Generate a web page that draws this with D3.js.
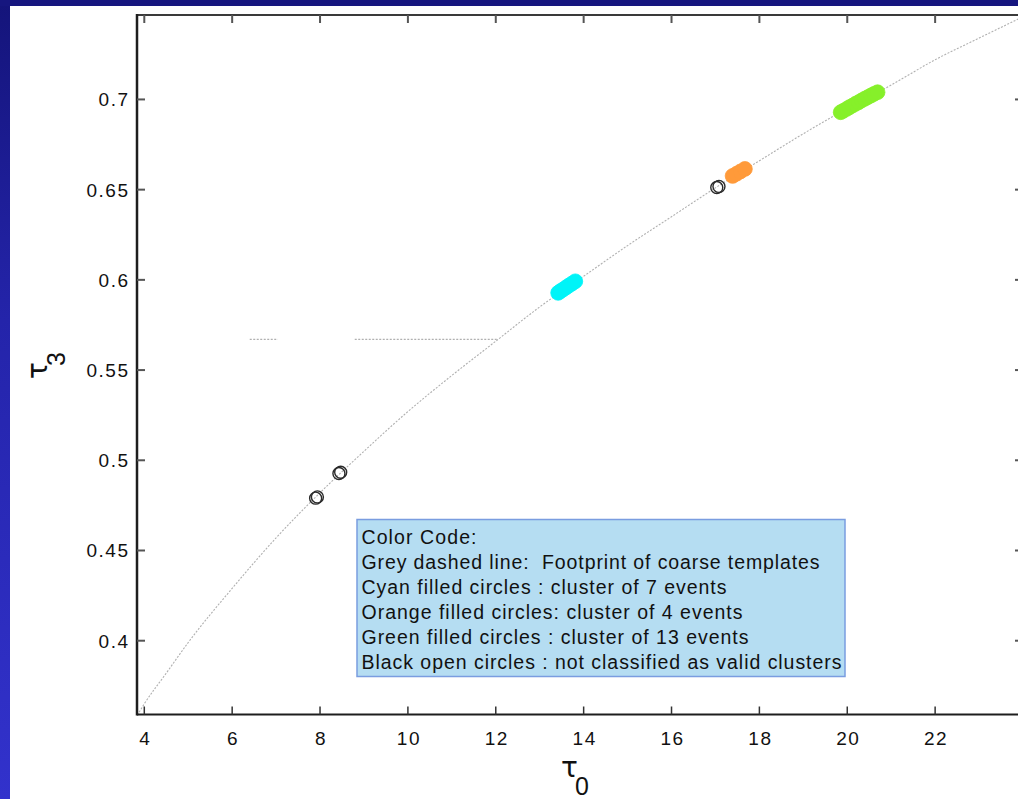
<!DOCTYPE html>
<html>
<head>
<meta charset="utf-8">
<script src="https://cdn.jsdelivr.net/npm/d3@7"></script>
<style>
  html, body { margin: 0; padding: 0; background: #16167f; }
  svg { display: block; }
  text { font-family: "Liberation Sans", Arial, Helvetica, sans-serif; fill: #111; white-space: pre; }
  .greek { font-family: "DejaVu Sans", sans-serif; }
</style>
</head>
<body>
<svg id="chart" width="1018" height="799"></svg>
<script>
// Footprint of the coarse template bank in the (tau0, tau3) plane
const footprintTau0 = [3.80, 4.0, 4.5, 5.0, 6.0, 7.0, 8.0, 9.0, 10.0, 11.0, 12.0, 13.0, 14.0, 15.0, 16.0, 17.0, 18.0, 19.0, 20.0, 21.0, 22.0, 23.0, 24.1];
const footprintTau3 = [0.357, 0.365, 0.382, 0.399, 0.429, 0.457, 0.482, 0.505, 0.527, 0.547, 0.566, 0.585, 0.602, 0.619, 0.635, 0.651, 0.666, 0.681, 0.695, 0.708, 0.722, 0.734, 0.747];

// Horizontal grey dashed segments at tau3 = 0.567
const flatTau3 = 0.567;
const flatSegments = [[6.40, 7.04], [8.79, 12.04]];

// Cluster of 7 events (cyan)
const cyanTau0 = [13.42, 13.47, 13.53, 13.60, 13.66, 13.73, 13.81];
const cyanTau3 = [0.5928, 0.5937, 0.5946, 0.5958, 0.5968, 0.5979, 0.5992];

// Cluster of 4 events (orange)
const orangeTau0 = [17.39, 17.48, 17.57, 17.67];
const orangeTau3 = [0.6576, 0.6588, 0.6601, 0.6615];

// Cluster of 13 events (green)
const greenTau0 = [19.85, 19.91, 19.99, 20.05, 20.12, 20.19, 20.26, 20.33, 20.40, 20.47, 20.54, 20.61, 20.69];
const greenTau3 = [0.6929, 0.6937, 0.6948, 0.6957, 0.6966, 0.6976, 0.6985, 0.6995, 0.7004, 0.7013, 0.7022, 0.7031, 0.7040];

// Events not classified as valid clusters (black open circles)
const otherTau0 = [7.90, 7.94, 8.43, 8.47, 17.03, 17.08];
const otherTau3 = [0.4790, 0.4797, 0.4927, 0.4934, 0.6512, 0.6518];

// Axis ticks
const xTicks = [4, 6, 8, 10, 12, 14, 16, 18, 20, 22];
const yTicks = [0.4, 0.45, 0.5, 0.55, 0.6, 0.65, 0.7];
const yTickLabels = ["0.4", "0.45", "0.5", "0.55", "0.6", "0.65", "0.7"];

// Legend text
const legendLines = [
  "Color Code:",
  "Grey dashed line:  Footprint of coarse templates",
  "Cyan filled circles : cluster of 7 events",
  "Orange filled circles: cluster of 4 events",
  "Green filled circles : cluster of 13 events",
  "Black open circles : not classified as valid clusters"
];
const legendWidths = [115, 458, 365, 381, 387, 480];

const svg = d3.select("#chart");
const W = 1018, H = 799;

// Slide background with a vertical blue gradient
const defs = svg.append("defs");
const grad = defs.append("linearGradient").attr("id", "bg").attr("x1", 0).attr("y1", 0).attr("x2", 0).attr("y2", 1);
grad.append("stop").attr("offset", "0%").attr("stop-color", "#14147a");
grad.append("stop").attr("offset", "40%").attr("stop-color", "#2424aa");
grad.append("stop").attr("offset", "100%").attr("stop-color", "#3232cc");
svg.append("rect").attr("width", W).attr("height", H).attr("fill", "url(#bg)");
svg.append("rect").attr("x", 0).attr("y", 0).attr("width", W).attr("height", 6).attr("fill", "#16167f");

// White figure panel
svg.append("rect").attr("x", 10).attr("y", 6).attr("width", W - 10).attr("height", H - 6).attr("fill", "#ffffff");

// Plot area
const plot = { left: 137, right: 1023, top: 15, bottom: 714.5 };
const x = d3.scaleLinear().domain([3.834, 24.0]).range([plot.left, plot.right]);
const y = d3.scaleLinear().domain([0.3591, 0.7468]).range([plot.bottom, plot.top]);

defs.append("clipPath").attr("id", "plotClip")
  .append("rect").attr("x", plot.left).attr("y", plot.top)
  .attr("width", plot.right - plot.left).attr("height", plot.bottom - plot.top);

const g = svg.append("g").attr("clip-path", "url(#plotClip)");

// Template footprint curve
const footprint = footprintTau0.map((t, i) => [t, footprintTau3[i]]);
g.append("path")
  .datum(footprint)
  .attr("d", d3.line().x(d => x(d[0])).y(d => y(d[1])).curve(d3.curveMonotoneX))
  .attr("fill", "none")
  .attr("stroke", "#b0b0b0")
  .attr("stroke-width", 1.1)
  .attr("stroke-dasharray", "2,1.5");

// Horizontal dashed segments
g.selectAll("line.flat")
  .data(flatSegments)
  .join("line")
  .attr("class", "flat")
  .attr("x1", d => x(d[0])).attr("x2", d => x(d[1]))
  .attr("y1", y(flatTau3)).attr("y2", y(flatTau3))
  .attr("stroke", "#b0b0b0")
  .attr("stroke-width", 1.1)
  .attr("stroke-dasharray", "2,1.5");

// Filled cluster markers
function filled(tau0, tau3, color) {
  g.append("g").selectAll("circle")
    .data(tau0.map((t, i) => [t, tau3[i]]))
    .join("circle")
    .attr("cx", d => x(d[0]))
    .attr("cy", d => y(d[1]))
    .attr("r", 7.4)
    .attr("fill", color)
    .attr("stroke", color)
    .attr("stroke-width", 0.8);
}
filled(cyanTau0, cyanTau3, "#00f4f8");
filled(orangeTau0, orangeTau3, "#ff9a3a");
filled(greenTau0, greenTau3, "#86f02a");

// Open markers
g.append("g").selectAll("circle")
  .data(otherTau0.map((t, i) => [t, otherTau3[i]]))
  .join("circle")
  .attr("cx", d => x(d[0]))
  .attr("cy", d => y(d[1]))
  .attr("r", 6)
  .attr("fill", "none")
  .attr("stroke", "#2a2a2a")
  .attr("stroke-width", 1.4);

// Axes box
const axisColor = "#1e1e1e";
const tickLen = 8;
const ax = svg.append("g");
ax.append("line").attr("x1", plot.left).attr("x2", W).attr("y1", plot.top).attr("y2", plot.top)
  .attr("stroke", "#3a3a3a").attr("stroke-width", 2);
ax.append("line").attr("x1", plot.left).attr("x2", W).attr("y1", plot.bottom).attr("y2", plot.bottom)
  .attr("stroke", axisColor).attr("stroke-width", 2);
ax.append("line").attr("x1", plot.left).attr("x2", plot.left).attr("y1", plot.top - 1).attr("y2", plot.bottom + 1)
  .attr("stroke", axisColor).attr("stroke-width", 2.5);
ax.append("line").attr("x1", plot.right).attr("x2", plot.right).attr("y1", plot.top).attr("y2", plot.bottom)
  .attr("stroke", axisColor).attr("stroke-width", 2);

// Bottom and top ticks
ax.selectAll("line.xb").data(xTicks).join("line").attr("class", "xb")
  .attr("x1", d => x(d)).attr("x2", d => x(d))
  .attr("y1", plot.bottom).attr("y2", plot.bottom - tickLen)
  .attr("stroke", "#333").attr("stroke-width", 1.5);
ax.selectAll("line.xt").data(xTicks).join("line").attr("class", "xt")
  .attr("x1", d => x(d)).attr("x2", d => x(d))
  .attr("y1", plot.top).attr("y2", plot.top + tickLen)
  .attr("stroke", "#555").attr("stroke-width", 2);

// Left and right ticks
ax.selectAll("line.yl").data(yTicks).join("line").attr("class", "yl")
  .attr("y1", d => y(d)).attr("y2", d => y(d))
  .attr("x1", plot.left).attr("x2", plot.left + tickLen)
  .attr("stroke", "#555").attr("stroke-width", 2);
ax.selectAll("line.yr").data(yTicks).join("line").attr("class", "yr")
  .attr("y1", d => y(d)).attr("y2", d => y(d))
  .attr("x1", plot.right).attr("x2", plot.right - tickLen)
  .attr("stroke", "#555").attr("stroke-width", 2);

// Tick labels
ax.selectAll("text.xl").data(xTicks).join("text").attr("class", "xl")
  .attr("x", d => x(d) + 1)
  .attr("y", 745)
  .attr("text-anchor", "middle")
  .attr("font-size", 19)
  .attr("letter-spacing", 1.5)
  .text(d => d);
ax.selectAll("text.ylab").data(yTicks).join("text").attr("class", "ylab")
  .attr("x", 129.5)
  .attr("y", d => y(d) + 7)
  .attr("text-anchor", "end")
  .attr("font-size", 19)
  .attr("letter-spacing", 1.5)
  .text((d, i) => yTickLabels[i]);

// Axis titles
const xt = svg.append("g");
xt.append("text").attr("class", "greek").attr("x", 561).attr("y", 777).attr("font-size", 28).text("τ");
xt.append("text").attr("x", 575).attr("y", 795).attr("font-size", 25).text("0");

const yt = svg.append("g").attr("transform", "translate(47,379) rotate(-90)");
yt.append("text").attr("class", "greek").attr("x", 0).attr("y", 0).attr("font-size", 28).text("τ");
yt.append("text").attr("x", 13).attr("y", 18).attr("font-size", 25).text("3");

// Legend
const leg = svg.append("g");
leg.append("rect")
  .attr("x", 357).attr("y", 519.5).attr("width", 488).attr("height", 157)
  .attr("fill", "#b5ddf2").attr("stroke", "#7a9de0").attr("stroke-width", 1.5);
leg.selectAll("text").data(legendLines).join("text")
  .attr("x", 361.5)
  .attr("y", (d, i) => 544 + i * 24.9)
  .attr("font-size", 19.5)
  .attr("textLength", (d, i) => legendWidths[i])
  .attr("lengthAdjust", "spacing")
  .text(d => d);
</script>
</body>
</html>
